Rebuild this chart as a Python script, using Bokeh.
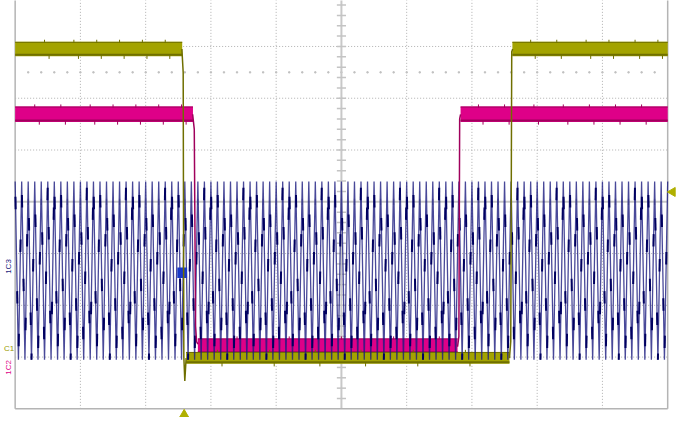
import numpy as np
from bokeh.plotting import figure
from bokeh.models import Range1d
from bokeh.embed import file_html
from bokeh.resources import INLINE
from bokeh.core.properties import value

# ---- screen grid (in divisions) ----
grid_x = [0, 1, 2, 3, 4, 5, 6, 7, 8, 9, 10]
grid_y = [0, 1, 2, 3, 4, 5, 6, 7, 8]

# ---- C1 (olive) : band segments, levels in divisions ----
c1_x0 = [0.0, 2.62, 7.62]
c1_x1 = [2.56, 7.575, 10.0]
c1_lo = [6.81, 0.87, 6.81]
c1_hi = [7.09, 1.10, 7.09]
c1_fall_x = [2.555, 2.575, 2.585, 2.60, 2.62]
c1_fall_y = [6.95, 6.50, 1.00, 0.54, 0.98]
c1_rise_x = [7.575, 7.595, 7.61, 7.625]
c1_rise_y = [0.98, 1.30, 6.90, 6.95]
c1_spike_x = [0.45, 0.9, 1.25, 1.6, 1.95, 2.3, 3.1, 3.9, 4.6, 5.3, 6.1, 6.9,
              7.9, 8.3, 8.75, 9.1, 9.5, 9.85]

# ---- C2 (magenta) ----
c2_x0 = [0.0, 2.80, 6.826]
c2_x1 = [2.725, 6.78, 10.0]
c2_lo = [5.54, 1.06, 5.54]
c2_hi = [5.84, 1.36, 5.84]
c2_fall_x = [2.72, 2.745, 2.765, 2.78, 2.80]
c2_fall_y = [5.69, 5.40, 1.60, 1.30, 1.25]
c2_rise_x = [6.78, 6.80, 6.812, 6.826]
c2_rise_y = [1.20, 1.40, 5.60, 5.69]
c2_spike_x = [0.3, 0.7, 1.15, 1.5, 1.85, 2.2, 2.55, 3.4, 4.2, 5.0, 5.8, 6.5,
              7.1, 7.5, 7.95, 8.4, 8.8, 9.2, 9.6]

# ---- C3 (navy) : carrier ----
c3_top = 4.39
c3_bottom = 0.95
c3_cycles_per_div = 10
c3_dash_frac = [0.88, 0.64, 0.42, 0.20, 0.76, 0.53, 0.31, 0.10, 0.68, 0.46, 0.24, 0.82]
c3_marker = [2.485, 2.635, 2.53, 2.73]  # left, right, bottom, top

# ---- markers ----
trig_x = 2.59
c1_level_marker_y = 4.19
cursor_y = 6.5

OLIVE = "#a3a300"
OLIVE_D = "#6f6f00"
MAG = "#de0088"
MAG_D = "#a0005c"
NAVY = "#1c1c80"

p = figure(width=676, height=417, x_range=Range1d(-0.2246, 10.135),
           y_range=Range1d(-0.167, 7.888), output_backend="svg",
           toolbar_location=None, x_axis_location=None, y_axis_location=None,
           min_border=0)
p.grid.visible = False
p.outline_line_color = None
p.background_fill_color = "white"
p.border_fill_color = "white"

# dotted grid
gx = [g for g in grid_x if g not in (0, 5, 10)]
gy = [g for g in grid_y if g not in (0, 4, 8)]
p.segment(x0=gx, y0=[0] * len(gx), x1=gx, y1=[8] * len(gx),
          line_color="#b0b0b0", line_width=1, line_dash="1 2")
p.segment(x0=[0] * len(gy), y0=gy, x1=[10] * len(gy), y1=gy,
          line_color="#b0b0b0", line_width=1, line_dash="1 2")
# cursor dotted line
cx = [i * 0.2 for i in range(1, 50)]
p.scatter(x=cx, y=[cursor_y] * len(cx), marker="square", size=1.3,
          color="#c0c0c0")
# center axes with ticks
p.segment(x0=[5, 0], y0=[0, 4], x1=[5, 10], y1=[8, 4], line_color="#c8c8c8",
          line_width=2)
tx = [i * 0.2 for i in range(1, 50)]
ty = [i * 0.2 for i in range(1, 40)]
p.segment(x0=tx, y0=[3.94] * len(tx), x1=tx, y1=[4.06] * len(tx),
          line_color="#c4c4c4", line_width=1.5)
p.segment(x0=[4.93] * len(ty), y0=ty, x1=[5.07] * len(ty), y1=ty,
          line_color="#c4c4c4", line_width=1.5)
# border
p.segment(x0=[0, 10, 0, 0], y0=[0, 0, 0, 8], x1=[0, 10, 10, 10], y1=[8, 8, 0, 8],
          line_color="#b4b4b4", line_width=1.5)


def band(x0s, x1s, los, his, fill, dark, spikes):
    for a, b, lo, hi in zip(x0s, x1s, los, his):
        p.quad(left=a, right=b, bottom=lo, top=hi, fill_color=fill, line_color=None)
        p.line([a, b], [lo + 0.03, lo + 0.03], line_color=dark, line_width=2.2)
        p.line([a, b], [hi - 0.01, hi - 0.01], line_color=dark, line_width=1)
        sx = [s for s in spikes if a + 0.02 < s < b - 0.02]
        p.segment(x0=sx, y0=[hi - 0.02] * len(sx), x1=sx, y1=[hi + 0.04] * len(sx),
                  line_color=dark, line_width=1)
        sx2 = [s + 0.07 for s in spikes if a + 0.02 < s + 0.07 < b - 0.02]
        p.segment(x0=sx2, y0=[lo + 0.02] * len(sx2), x1=sx2, y1=[lo - 0.05] * len(sx2),
                  line_color=dark, line_width=1)


band(c2_x0, c2_x1, c2_lo, c2_hi, MAG, MAG_D, c2_spike_x)
band(c1_x0, c1_x1, c1_lo, c1_hi, OLIVE, OLIVE_D, c1_spike_x)

# C3 carrier
half = 1.0 / c3_cycles_per_div / 2
n = int(round(10 / half))
vx = np.arange(n + 1) * half
vy = np.where(np.arange(n + 1) % 2 == 0, c3_top, c3_bottom)
p.line(vx, vy, line_color=NAVY, line_alpha=0.8, line_width=1.3)
dx0, dy0, dx1, dy1 = [], [], [], []
amp = c3_top - c3_bottom
for i in range(n):
    for off in (0.0, 0.47):
        f = (c3_dash_frac[i % len(c3_dash_frac)] + off) % 1.0
        ya = c3_bottom + amp * max(f - 0.035, 0.0)
        yb = c3_bottom + amp * min(f + 0.035, 1.0)
        y0s, y1s = vy[i], vy[i + 1]
        xa = vx[i] + (ya - y0s) / (y1s - y0s) * half
        xb = vx[i] + (yb - y0s) / (y1s - y0s) * half
        dx0.append(xa); dy0.append(ya); dx1.append(xb); dy1.append(yb)
p.segment(x0=dx0, y0=dy0, x1=dx1, y1=dy1, line_color="#000060", line_width=2)
p.quad(left=[c3_marker[0]], right=[c3_marker[1]], bottom=[c3_marker[2]],
       top=[c3_marker[3]], fill_color="#1838c8", line_color=None)

# edges
p.line(c2_fall_x, c2_fall_y, line_color=MAG_D, line_width=1.5)
p.line(c2_rise_x, c2_rise_y, line_color=MAG_D, line_width=1.5)
p.line(c1_fall_x, c1_fall_y, line_color=OLIVE_D, line_width=1.5)
p.line(c1_rise_x, c1_rise_y, line_color=OLIVE_D, line_width=1.5)

# markers
p.scatter(x=[trig_x], y=[-0.11], marker="triangle", size=9, color="#b0b000")
p.scatter(x=[10.075], y=[c1_level_marker_y], marker="triangle", size=9,
          angle=np.pi / 2, color="#b0b000")
p.text(x=[-0.105], y=[2.75], text=["1C3"], angle=np.pi / 2, text_color=NAVY,
       text_font=value("Liberation Sans"), text_font_size="8px",
       text_align="center", text_baseline="middle")
p.text(x=[-0.17], y=[1.16], text=["C1"], text_color="#9a9a00",
       text_font=value("Liberation Sans"), text_font_size="8px",
       text_align="left", text_baseline="middle")
p.text(x=[-0.105], y=[0.80], text=["1C2"], angle=np.pi / 2, text_color=MAG,
       text_font=value("Liberation Sans"), text_font_size="8px",
       text_align="center", text_baseline="middle")

open("out.html", "w").write(file_html(p, INLINE))
